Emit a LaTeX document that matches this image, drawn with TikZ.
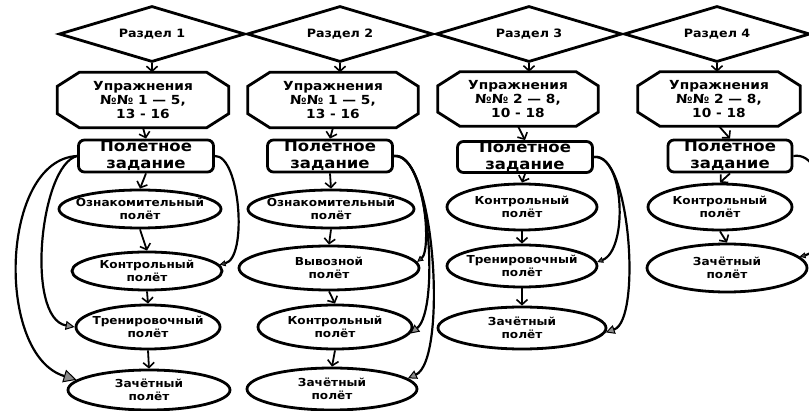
\documentclass[tikz,border=0pt]{standalone}
\usepackage{fontspec}
\newfontfamily\lbl{DejaVu Sans}[FakeStretch=1.1]
\usetikzlibrary{shapes.geometric,arrows.meta}

\tikzset{
  shape line/.style={draw, line width=2.8pt},
  txt/.style={font=\lbl\bfseries, align=center, inner sep=0pt},
  dia/.style={shape line, diamond, inner sep=0pt, minimum width=186pt, minimum height=56pt,
    label={[txt, font=\lbl\bfseries\fontsize{11.5}{13}\selectfont]center:#1}},
  octa/.style={rectangle, inner sep=0pt,
    label={[txt, font=\lbl\bfseries\fontsize{12.5}{14}\selectfont]center:#1}},
  task/.style={shape line, rectangle, rounded corners=6pt, inner sep=0pt,
    minimum width=135pt, minimum height=32pt,
    label={[txt, font=\lbl\bfseries\fontsize{15}{16.5}\selectfont, yshift=1pt]center:#1}},
  flight/.style={shape line, ellipse, inner sep=0pt,
    label={[txt, font=\lbl\bfseries\fontsize{11}{13}\selectfont]center:#1}},
  flow/.style={line width=1.8pt, -{Straight Barb[length=5pt, width=11pt, line width=1.6pt]}},
  bypass/.style={line width=2.2pt},
  tipS/.style={-{Triangle[length=6pt, width=6pt, line width=0.8pt, fill=black!75]}},
  tipM/.style={-{Triangle[length=9pt, width=9pt, line width=1pt, fill=black!45]}},
  tipL/.style={-{Triangle[length=13pt, width=13pt, line width=1pt, fill=black!45]}},
}

% octagonal outline around a rectangular node: corners cut by 22pt x 14pt
\newcommand\octaborder[1]{%
  \draw[shape line, line join=miter]
    ([xshift=22pt]#1.north west) -- ([xshift=-22pt]#1.north east)
    -- ([yshift=-14pt]#1.north east) -- ([yshift=14pt]#1.south east)
    -- ([xshift=-22pt]#1.south east) -- ([xshift=22pt]#1.south west)
    -- ([yshift=14pt]#1.south west) -- ([yshift=-14pt]#1.north west) -- cycle;}

\begin{document}
\begin{tikzpicture}[x=1pt, y=-1pt]
\useasboundingbox (0,0) rectangle (809,411);
\clip (0,0) rectangle (809,411);

% ---- sections
\node[dia={Раздел 1}] (d1) at (152,34) {};
\node[dia={Раздел 2}] (d2) at (340,34) {};
\node[dia={Раздел 3}] (d3) at (529,34) {};
\node[dia={Раздел 4}] (d4) at (717,34) {};

% ---- exercises
\node[octa={Упражнения\\№№ 1 — 5,\\13 - 16}, minimum width=171pt, minimum height=55pt] (o1) at (143,100) {};
\node[octa={Упражнения\\№№ 1 — 5,\\13 - 16}, minimum width=170pt, minimum height=55pt] (o2) at (333,100) {};
\node[octa={Упражнения\\№№ 2 — 8,\\10 - 18}, minimum width=160pt, minimum height=54pt] (o3) at (518,99) {};
\node[octa={Упражнения\\№№ 2 — 8,\\10 - 18}, minimum width=162pt, minimum height=54pt] (o4) at (719,99) {};
\octaborder{o1}\octaborder{o2}\octaborder{o3}\octaborder{o4}

% ---- flight tasks
\node[task={Полётное\\задание}] (b1) at (146,156) {};
\node[task={Полётное\\задание}, minimum width=125pt] (b2) at (330,156) {};
\node[task={Полётное\\задание}, minimum height=31pt] (b3) at (525,157) {};
\node[task={Полётное\\задание}, minimum width=124pt] (b4) at (730,156) {};

% ---- column 1
\node[flight={Ознакомительный\\полёт}, minimum width=162pt, minimum height=38pt] (oz1) at (140,209) {};
\node[flight={Контрольный\\полёт}, minimum width=150pt, minimum height=38pt] (k1) at (147,271) {};
\node[flight={Тренировочный\\полёт}, minimum width=144pt, minimum height=44pt] (t1) at (148,327) {};
\node[flight={Зачётный\\полёт}, minimum width=162pt, minimum height=40pt] (z1) at (149,390) {};

% ---- column 2
\node[flight={Ознакомительный\\полёт}, minimum width=166pt, minimum height=38pt] (oz2) at (331,209) {};
\node[flight={Вывозной\\полёт}, minimum width=180pt, minimum height=44pt] (v2) at (329,268) {};
\node[flight={Контрольный\\полёт}, minimum width=154pt, minimum height=44pt] (k2) at (335,327) {};
\node[flight={Зачётный\\полёт}, minimum width=170pt, minimum height=42pt] (z2) at (332,389) {};

% ---- column 3
\node[flight={Контрольный\\полёт}, minimum width=150pt, minimum height=46pt] (k3) at (522,207) {};
\node[flight={Тренировочный\\полёт}, minimum width=150pt, minimum height=42pt] (tr3) at (522,266) {};
\node[flight={Зачётный\\полёт}, minimum width=168pt, minimum height=42pt] (z3) at (522,328) {};

% ---- column 4
\node[flight={Контрольный\\полёт}, minimum width=144pt, minimum height=46pt] (k4) at (720,207) {};
\node[flight={Зачётный\\полёт}, minimum width=160pt, minimum height=48pt] (z4) at (727,268) {};

% ---- main sequence
\foreach \i in {1,2,3,4}{
  \draw[flow] (d\i.south) -- (d\i.south |- o\i.north);
  \draw[flow] (o\i.south) -- (b\i.north);
}
\draw[flow] (b1.south) -- (oz1.north);
\draw[flow] (oz1.south) -- (k1.north);
\draw[flow] (k1.south) -- (t1.north);
\draw[flow] (t1.south) -- (z1.north);

\draw[flow] (b2.south) -- (oz2.north);
\draw[flow] (oz2.south) -- (v2.north);
\draw[flow] (v2.south) -- (k2.north);
\draw[flow] (k2.south) -- (z2.north);

\draw[flow] (b3.south) -- (k3.north);
\draw[flow] (k3.south) -- (tr3.north);
\draw[flow] (tr3.south) -- (z3.north);

\draw[flow] (b4.south) -- (k4.north);
\draw[flow] (k4.south) -- (z4.north);

% ---- bypass links
\draw[bypass, tipL] (b1.west) .. controls (0,160) and (-5,355) .. (z1.172);
\draw[bypass, tipM] (b1.west) .. controls (40,165) and (25,318) .. (t1.west);
\draw[bypass, tipS] (b1.east) .. controls (240,155) and (248,258) .. (k1.5);

\draw[bypass, tipS] (b2.east) .. controls (425,155) and (432,250) .. (v2.4);
\draw[bypass, tipM] (b2.east) .. controls (430,150) and (440,310) .. (k2.-5);
\draw[bypass, tipM] (b2.east) .. controls (435,150) and (448,360) .. (z2.8);

\draw[bypass, tipS] (b3.east) .. controls (625,155) and (628,250) .. (tr3.3);
\draw[bypass, tipM] (b3.east) .. controls (630,150) and (642,320) .. (z3.-3);

\draw[bypass, tipS] (b4.east) .. controls (830,150) and (832,250) .. (z4.9);
\end{tikzpicture}
\end{document}
